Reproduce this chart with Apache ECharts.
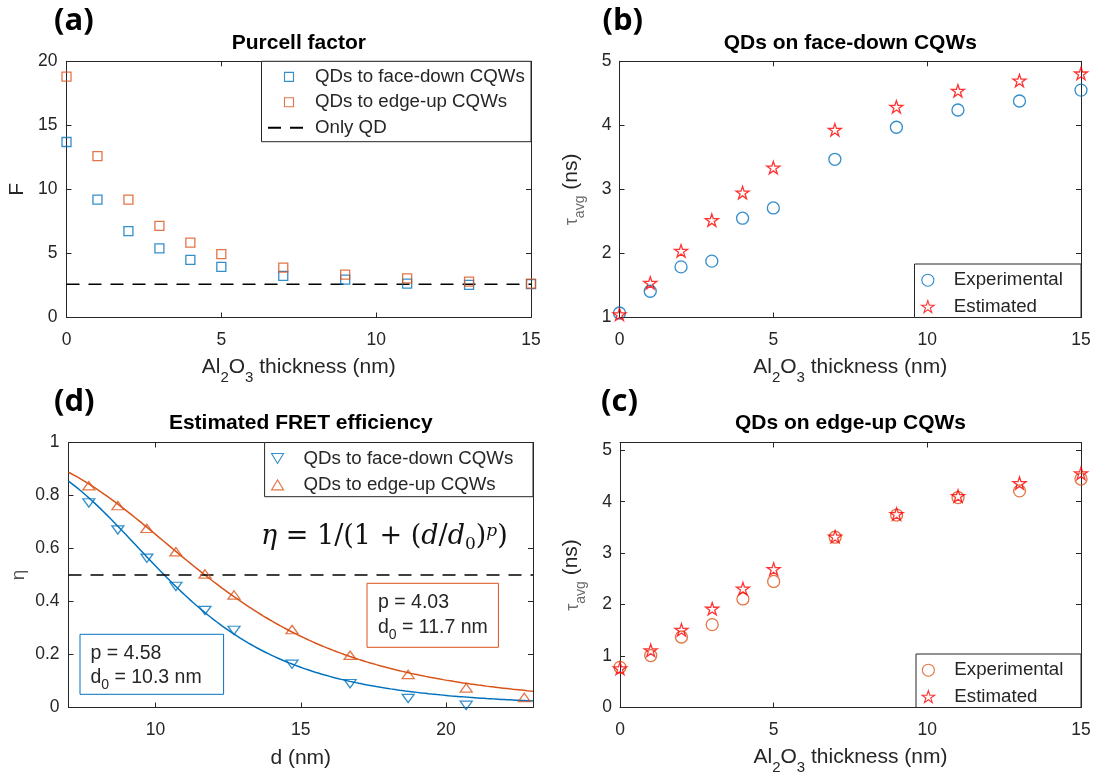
<!DOCTYPE html>
<html>
<head>
<meta charset="utf-8">
<script src="https://cdn.jsdelivr.net/npm/echarts@6/dist/echarts.min.js"></script>
<style>
  html, body { margin: 0; padding: 0; background: #fff; }
  #chart { width: 1103px; height: 778px; }
</style>
</head>
<body>
<div id="chart"></div>
<script>
// Al2O3 spacer thickness (nm), shared by panels (a), (b), (c)
const thickness = [0, 1, 2, 3, 4, 5, 7, 9, 11, 13, 15];

// (a) Purcell factor
const purcellFaceDown = [13.7, 9.2, 6.75, 5.4, 4.5, 3.95, 3.25, 2.95, 2.65, 2.55, 2.6];
const purcellEdgeUp = [18.8, 12.6, 9.2, 7.15, 5.85, 4.95, 3.9, 3.35, 3.05, 2.8, 2.65];
const onlyQdLevel = 2.6;

// (b) average lifetime, QDs on face-down CQWs (ns)
const faceDownExp = [1.07, 1.41, 1.79, 1.88, 2.55, 2.71, 3.47, 3.97, 4.24, 4.38, 4.55];
const faceDownEst = [1.05, 1.54, 2.04, 2.52, 2.95, 3.34, 3.93, 4.29, 4.54, 4.70, 4.81];

// (c) average lifetime, QDs on edge-up CQWs (ns)
const edgeUpExp = [0.78, 1.01, 1.37, 1.61, 2.11, 2.45, 3.31, 3.74, 4.08, 4.21, 4.44];
const edgeUpEst = [0.76, 1.11, 1.51, 1.92, 2.31, 2.69, 3.32, 3.76, 4.11, 4.36, 4.55];

// (d) FRET efficiency vs donor-acceptor distance (nm)
const donorDistance = [7.7, 8.7, 9.7, 10.7, 11.7, 12.7, 14.7, 16.7, 18.7, 20.7, 22.7];
const fretFaceDown = [0.772, 0.67, 0.563, 0.457, 0.366, 0.291, 0.163, 0.09, 0.034, 0.008];
const fretEdgeUp = [0.837, 0.762, 0.676, 0.588, 0.504, 0.425, 0.294, 0.197, 0.125, 0.074, 0.038];
const fitFaceDown = { p: 4.58, d0: 10.3 };
const fitEdgeUp = { p: 4.03, d0: 11.7 };
const halfEfficiency = 0.5;

// tick labels
const thicknessTicks = [0, 5, 10, 15];
const distanceTicks = [10, 15, 20];

// ---- styling -------------------------------------------------------------
const AXIS = '#262626';
const BLUE = '#0072BD';
const ORANGE = '#D95319';
const RED = '#FF0000';
const SANS = '"Liberation Sans", Arial, sans-serif';
const STAR = 'path://M50 0 L61.23 34.55 L97.55 34.55 L68.17 55.9 L79.39 90.45 L50 69.1 L20.61 90.45 L31.83 55.9 L2.45 34.55 L38.77 34.55 Z';
const SQUARE = 'path://M0 0 L10 0 L10 10 L0 10 Z';
const TRI_UP = 'path://M6 0 L12 10 L0 10 Z';
const TRI_DOWN = 'path://M0 0 L12 0 L6 10 Z';

const zip = (xs, ys) => ys.map((y, i) => [xs[i], y]);

// fitted model  eta = 1 / (1 + (d/d0)^p)
function fitCurve(fit, from, to, step) {
  const pts = [];
  for (let d = from; d <= to + 1e-9; d += step) {
    pts.push([+d.toFixed(3), 1 / (1 + Math.pow(d / fit.d0, fit.p))]);
  }
  return pts;
}

const grids = [
  { left: 66.5, top: 61.3, width: 464.5, height: 256.2 },   // (a)
  { left: 619.5, top: 61.3, width: 461.5, height: 256.2 },  // (b)
  { left: 68.5, top: 442.5, width: 464.5, height: 265 },    // (d)
  { left: 620, top: 442.5, width: 461, height: 265 }        // (c)
];

const subRich = {
  m: { fontSize: 21, fontFamily: SANS, color: AXIS, verticalAlign: 'top' },
  s: { fontSize: 15, fontFamily: SANS, color: AXIS, verticalAlign: 'top', padding: [13, 0, 0, 0] }
};
const tauRich = {
  t: { fontSize: 18, fontFamily: SANS, color: '#6b6b6b', verticalAlign: 'top', padding: [3, 0, 0, 0] },
  s: { fontSize: 14, fontFamily: SANS, color: '#6b6b6b', verticalAlign: 'top', padding: [13, 0, 0, 0] },
  m: { fontSize: 21, fontFamily: SANS, color: AXIS, verticalAlign: 'top' }
};

function axis(o) {
  const a = {
    type: 'value',
    gridIndex: o.grid,
    position: o.position,
    min: o.min,
    max: o.max,
    axisLine: { show: true, onZero: false, lineStyle: { color: AXIS, width: 1 } },
    axisTick: { show: true, inside: true, length: 5, lineStyle: { color: AXIS, width: 1 } },
    splitLine: { show: false },
    axisLabel: {
      show: !!o.labels,
      color: AXIS,
      fontSize: 17.5,
      fontFamily: SANS,
      margin: o.margin || 8,
      formatter: o.formatter
    }
  };
  if (o.interval != null) a.interval = o.interval;
  if (o.custom) {
    a.axisLabel.customValues = o.custom;
    a.axisTick.customValues = o.custom;
  }
  if (o.name) {
    a.name = o.name;
    a.nameLocation = 'middle';
    a.nameGap = o.nameGap;
    a.nameRotate = o.nameRotate || 0;
    a.nameTextStyle = Object.assign({ fontSize: 21, fontFamily: SANS, color: AXIS }, o.nameStyle || {});
  }
  return a;
}

const intOnly = v => (Math.abs(v - Math.round(v)) < 1e-9 ? String(Math.round(v)) : '');
const alName = '{m|Al}{s|2}{m|O}{s|3}{m| thickness (nm)}';
const tauName = '{t|τ}{s|avg}{m| (ns)}';

const xAxes = [
  axis({ grid: 0, position: 'bottom', min: 0, max: 15, interval: 5, labels: true, margin: 14,
         name: alName, nameGap: 39.5, nameStyle: { rich: subRich } }),
  axis({ grid: 0, position: 'top', min: 0, max: 15, interval: 5 }),
  axis({ grid: 1, position: 'bottom', min: 0, max: 15, interval: 5, labels: true, margin: 14,
         name: alName, nameGap: 39.5, nameStyle: { rich: subRich } }),
  axis({ grid: 1, position: 'top', min: 0, max: 15, interval: 5 }),
  axis({ grid: 2, position: 'bottom', min: 7, max: 23, custom: distanceTicks, labels: true, margin: 14,
         name: 'd (nm)', nameGap: 40 }),
  axis({ grid: 2, position: 'top', min: 7, max: 23, custom: distanceTicks }),
  axis({ grid: 3, position: 'bottom', min: 0, max: 15, interval: 5, labels: true, margin: 14,
         name: alName, nameGap: 39.5, nameStyle: { rich: subRich } }),
  axis({ grid: 3, position: 'top', min: 0, max: 15, interval: 5 })
];

const yAxes = [
  axis({ grid: 0, position: 'left', min: 0, max: 20, interval: 5, labels: true, margin: 9,
         name: 'F', nameGap: 39, nameRotate: 90 }),
  axis({ grid: 0, position: 'right', min: 0, max: 20, interval: 5 }),
  axis({ grid: 1, position: 'left', min: 1, max: 5, interval: 1, labels: true, margin: 8,
         name: tauName, nameGap: 32, nameRotate: 90, nameStyle: { rich: tauRich } }),
  axis({ grid: 1, position: 'right', min: 1, max: 5, interval: 1 }),
  axis({ grid: 2, position: 'left', min: 0, max: 1, interval: 0.2, labels: true, margin: 9,
         formatter: v => (v === 0 || v === 1 ? String(v) : String(+v.toFixed(1))),
         name: 'η', nameGap: 40, nameRotate: 90, nameStyle: { fontSize: 19, color: '#555' } }),
  axis({ grid: 2, position: 'right', min: 0, max: 1, interval: 0.2 }),
  axis({ grid: 3, position: 'left', min: 0, max: 5.15, interval: 1, labels: true, margin: 8,
         formatter: intOnly,
         name: tauName, nameGap: 32, nameRotate: 90, nameStyle: { rich: tauRich } }),
  axis({ grid: 3, position: 'right', min: 0, max: 5.15, interval: 1 })
];

// each panel owns a bottom/top x axis and a left/right y axis; data goes on the first of each pair
function markers(name, panel, data, symbol, size, color) {
  return {
    type: 'scatter', name, xAxisIndex: panel * 2, yAxisIndex: panel * 2, data,
    symbol, symbolSize: size, symbolKeepAspect: true,
    itemStyle: { color: 'rgba(0,0,0,0)', borderColor: color, borderWidth: 1.3 },
    emphasis: { disabled: true }, z: 3
  };
}
function line(name, panel, data, color, width, type) {
  return {
    type: 'line', name, xAxisIndex: panel * 2, yAxisIndex: panel * 2, data,
    symbol: 'none', showSymbol: false, smooth: false,
    lineStyle: { color, width, type: type || 'solid' },
    itemStyle: { color: 'rgba(0,0,0,0)', borderWidth: 0 },
    emphasis: { disabled: true }, z: 2
  };
}

const series = [
  // (a)
  markers('aFaceDown', 0, zip(thickness, purcellFaceDown), SQUARE, 9, BLUE),
  markers('aEdgeUp', 0, zip(thickness, purcellEdgeUp), SQUARE, 9, ORANGE),
  line('aOnlyQd', 0, [[thickness[0], onlyQdLevel], [thickness[thickness.length - 1], onlyQdLevel]], '#000', 1.5, [13, 9]),
  // (b)
  markers('bExp', 1, zip(thickness, faceDownExp), 'circle', 12, BLUE),
  markers('bEst', 1, zip(thickness, faceDownEst), STAR, 13, RED),
  // (d)
  line('dFitFaceDown', 2, fitCurve(fitFaceDown, 7, 23, 0.1), BLUE, 1.5),
  line('dFitEdgeUp', 2, fitCurve(fitEdgeUp, 7, 23, 0.1), ORANGE, 1.5),
  line('dHalf', 2, [[7, halfEfficiency], [23, halfEfficiency]], '#000', 1.5, [13, 9]),
  markers('dFaceDown', 2, zip(donorDistance, fretFaceDown), TRI_DOWN, [12, 10], BLUE),
  markers('dEdgeUp', 2, zip(donorDistance, fretEdgeUp), TRI_UP, [12, 10], ORANGE),
  // (c)
  markers('cExp', 3, zip(thickness, edgeUpExp), 'circle', 12, ORANGE),
  markers('cEst', 3, zip(thickness, edgeUpEst), STAR, 13, RED)
];

const legendText = {
  aFaceDown: 'QDs to face-down CQWs', aEdgeUp: 'QDs to edge-up CQWs', aOnlyQd: 'Only QD',
  bExp: 'Experimental', bEst: 'Estimated',
  cExp: 'Experimental', cEst: 'Estimated',
  dFaceDown: 'QDs to face-down CQWs', dEdgeUp: 'QDs to edge-up CQWs'
};
function legend(names, left, top, gap, iconH) {
  return {
    show: true, orient: 'vertical', left, top, padding: 0,
    itemWidth: 42, itemHeight: iconH, itemGap: gap,
    symbolKeepAspect: true, selectedMode: false,
    itemStyle: { borderWidth: 1.1 },
    data: names, formatter: n => legendText[n],
    textStyle: { fontSize: 18.7, fontFamily: SANS, color: AXIS },
    z: 6
  };
}
const legends = [
  legend(['aFaceDown', 'aEdgeUp', 'aOnlyQd'], 267, 67.4, 6.4, 9),
  legend(['bExp', 'bEst'], 921, 270.7, 7.4, 12),
  legend(['cExp', 'cEst'], 921.5, 660.7, 7.4, 12),
  legend(['dFaceDown', 'dEdgeUp'], 271, 449, 7.4, 10)
];

// ---- boxes, panel letters, titles, annotations -------------------------------
function box(x, y, w, h, stroke, fill) {
  return { type: 'rect', z: 5, shape: { x, y, width: w, height: h },
           style: { fill: fill || '#fff', stroke: stroke || AXIS, lineWidth: 1 } };
}
function txt(text, x, y, opts) {
  return { type: 'text', z: 7, x, y,
           style: Object.assign({ text, fill: AXIS, fontSize: 18, fontFamily: SANS,
                                  align: 'left', verticalAlign: 'middle' }, opts || {}) };
}
const letterStyle = { fontSize: 31, fontWeight: 'bold', fontFamily: '"Open Sans", sans-serif', fill: '#000' };
const titleStyle = { fontSize: 21, fontWeight: 'bold', fontFamily: SANS, fill: '#000', align: 'center' };
const annoRich = {
  s: { fontSize: 14, fontFamily: SANS, fill: AXIS, verticalAlign: 'top', padding: [11, 0, 0, 0] },
  m: { fontSize: 19.5, fontFamily: SANS, fill: AXIS, verticalAlign: 'top' }
};
const eqRich = {
  i: { fontSize: 27, fontFamily: '"DejaVu Serif", serif', fontStyle: 'italic', fill: '#111', verticalAlign: 'top' },
  n: { fontSize: 27, fontFamily: '"DejaVu Serif", serif', fill: '#111', verticalAlign: 'top' },
  sb: { fontSize: 17, fontFamily: '"DejaVu Serif", serif', fill: '#111', verticalAlign: 'top', padding: [13, 0, 0, 0] },
  sp: { fontSize: 17, fontFamily: '"DejaVu Serif", serif', fontStyle: 'italic', fill: '#111', verticalAlign: 'top' }
};

const graphics = [
  box(261.5, 61.3, 269.5, 80.4),
  box(914.5, 264, 166.5, 53.5),
  box(916, 654, 165, 53.5),
  box(264.6, 442.5, 268.4, 54.2),

  txt('(a)', 54, 21, letterStyle),
  txt('(b)', 602.5, 21, letterStyle),
  txt('(d)', 54, 402, letterStyle),
  txt('(c)', 601, 402, letterStyle),

  txt('Purcell factor', 298.8, 43.3, titleStyle),
  txt('QDs on face-down CQWs', 850.3, 43.3, titleStyle),
  txt('Estimated FRET efficiency', 300.8, 423.3, titleStyle),
  txt('QDs on edge-up CQWs', 850.5, 423.3, titleStyle),

  txt('{i|η}{n| = 1/(1 + (}{i|d}{n|/}{i|d}{sb|0}{n|)}{sp|p}{n|)}', 261, 523,
      { verticalAlign: 'top', rich: eqRich }),

  box(367, 583.3, 131.4, 64, ORANGE, 'none'),
  txt('{m|p = ' + fitEdgeUp.p.toFixed(2) + '}', 378, 592.5, { verticalAlign: 'top', rich: annoRich }),
  txt('{m|d}{s|0}{m| = ' + fitEdgeUp.d0.toFixed(1) + ' nm}', 378, 617.5, { verticalAlign: 'top', rich: annoRich }),

  box(80, 634.3, 143.6, 60, BLUE, 'none'),
  txt('{m|p = ' + fitFaceDown.p.toFixed(2) + '}', 90.4, 643.5, { verticalAlign: 'top', rich: annoRich }),
  txt('{m|d}{s|0}{m| = ' + fitFaceDown.d0.toFixed(1) + ' nm}', 90.4, 667.5, { verticalAlign: 'top', rich: annoRich })
];

const chart = echarts.init(document.getElementById('chart'), null, { renderer: 'canvas' });
chart.setOption({
  animation: false,
  backgroundColor: '#fff',
  grid: grids.map(g => Object.assign({ outerBoundsMode: 'none', containLabel: false }, g)),
  xAxis: xAxes,
  yAxis: yAxes,
  legend: legends,
  series,
  graphic: graphics
});
</script>
</body>
</html>
